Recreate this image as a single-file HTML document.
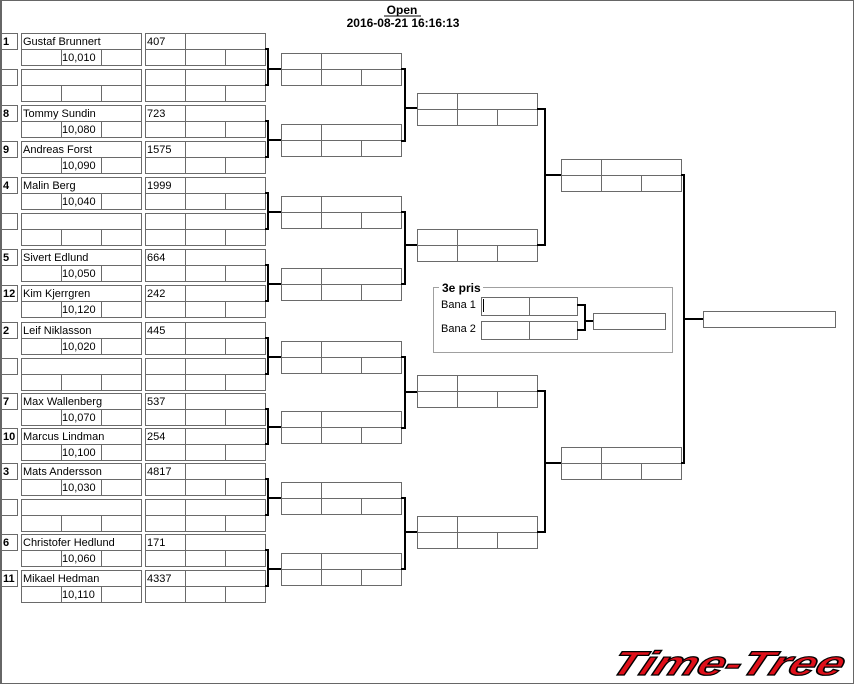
<!DOCTYPE html>
<html><head><meta charset="utf-8"><style>
html,body{margin:0;padding:0;background:#fff}
svg{display:block}
text{font-family:"Liberation Sans",sans-serif;font-size:11px;fill:#000}
.b{font-weight:bold}
</style></head><body>
<svg width="854" height="684" viewBox="0 0 854 684" xmlns="http://www.w3.org/2000/svg">
<defs>
<g id="slot" fill="none" stroke="#6a6a6a" stroke-width="1">
<rect x="1.5" y="0.5" width="16" height="16"/>
<rect x="21.5" y="0.5" width="120" height="16"/>
<rect x="21.5" y="16.5" width="40" height="16"/><rect x="61.5" y="16.5" width="40" height="16"/><rect x="101.5" y="16.5" width="40" height="16"/>
<rect x="145.5" y="0.5" width="40" height="16"/><rect x="185.5" y="0.5" width="80" height="16"/>
<rect x="145.5" y="16.5" width="40" height="16"/><rect x="185.5" y="16.5" width="40" height="16"/><rect x="225.5" y="16.5" width="40" height="16"/>
</g>
<g id="box" fill="none" stroke="#6a6a6a" stroke-width="1">
<rect x="0.5" y="0.5" width="40" height="16"/><rect x="40.5" y="0.5" width="80" height="16"/>
<rect x="0.5" y="16.5" width="40" height="16"/><rect x="40.5" y="16.5" width="40" height="16"/><rect x="80.5" y="16.5" width="40" height="16"/>
</g>
</defs>
<rect x="0.5" y="0.5" width="853" height="683" fill="none" stroke="#666" stroke-width="1"/>
<line x1="1" y1="0" x2="1" y2="684" stroke="#666" stroke-width="2"/>

<text x="402" y="14" text-anchor="middle" class="b" style="font-size:12px">Open</text>
<line x1="384" y1="16" x2="421" y2="16" stroke="#000" stroke-width="1"/>
<text x="403" y="27" text-anchor="middle" class="b" style="font-size:12px">2016-08-21 16:16:13</text>

<use href="#slot" x="0" y="33"/><use href="#slot" x="0" y="69"/>
<use href="#slot" x="0" y="105"/><use href="#slot" x="0" y="141"/>
<use href="#slot" x="0" y="177"/><use href="#slot" x="0" y="213"/>
<use href="#slot" x="0" y="249"/><use href="#slot" x="0" y="285"/>
<use href="#slot" x="0" y="322"/><use href="#slot" x="0" y="358"/>
<use href="#slot" x="0" y="393"/><use href="#slot" x="0" y="428"/>
<use href="#slot" x="0" y="463"/><use href="#slot" x="0" y="499"/>
<use href="#slot" x="0" y="534"/><use href="#slot" x="0" y="570"/>

<g>
<text x="3" y="45" class="b">1</text><text x="23" y="45">Gustaf Brunnert</text><text x="62" y="61">10,010</text><text x="147" y="45">407</text>
<text x="3" y="117" class="b">8</text><text x="23" y="117">Tommy Sundin</text><text x="62" y="133">10,080</text><text x="147" y="117">723</text>
<text x="3" y="153" class="b">9</text><text x="23" y="153">Andreas Forst</text><text x="62" y="169">10,090</text><text x="147" y="153">1575</text>
<text x="3" y="189" class="b">4</text><text x="23" y="189">Malin Berg</text><text x="62" y="205">10,040</text><text x="147" y="189">1999</text>
<text x="3" y="261" class="b">5</text><text x="23" y="261">Sivert Edlund</text><text x="62" y="277">10,050</text><text x="147" y="261">664</text>
<text x="3" y="297" class="b">12</text><text x="23" y="297">Kim Kjerrgren</text><text x="62" y="313">10,120</text><text x="147" y="297">242</text>
<text x="3" y="334" class="b">2</text><text x="23" y="334">Leif Niklasson</text><text x="62" y="350">10,020</text><text x="147" y="334">445</text>
<text x="3" y="405" class="b">7</text><text x="23" y="405">Max Wallenberg</text><text x="62" y="421">10,070</text><text x="147" y="405">537</text>
<text x="3" y="440" class="b">10</text><text x="23" y="440">Marcus Lindman</text><text x="62" y="456">10,100</text><text x="147" y="440">254</text>
<text x="3" y="475" class="b">3</text><text x="23" y="475">Mats Andersson</text><text x="62" y="491">10,030</text><text x="147" y="475">4817</text>
<text x="3" y="546" class="b">6</text><text x="23" y="546">Christofer Hedlund</text><text x="62" y="562">10,060</text><text x="147" y="546">171</text>
<text x="3" y="582" class="b">11</text><text x="23" y="582">Mikael Hedman</text><text x="62" y="598">10,110</text><text x="147" y="582">4337</text>
</g>

<use href="#box" x="281" y="53"/><use href="#box" x="281" y="124"/>
<use href="#box" x="281" y="196"/><use href="#box" x="281" y="268"/>
<use href="#box" x="281" y="341"/><use href="#box" x="281" y="411"/>
<use href="#box" x="281" y="482"/><use href="#box" x="281" y="553"/>
<use href="#box" x="417" y="93"/><use href="#box" x="417" y="229"/>
<use href="#box" x="417" y="375"/><use href="#box" x="417" y="516"/>
<use href="#box" x="561" y="159"/><use href="#box" x="561" y="447"/>
<rect x="703.5" y="311.5" width="132" height="16" fill="none" stroke="#6a6a6a"/>

<g fill="none" stroke="#000" stroke-width="2">
<path d="M265 49H268V85H265M268 69H281"/>
<path d="M265 121H268V157H265M268 140H281"/>
<path d="M265 193H268V229H265M268 212H281"/>
<path d="M265 265H268V301H265M268 284H281"/>
<path d="M265 338H268V374H265M268 357H281"/>
<path d="M265 409H268V444H265M268 427H281"/>
<path d="M265 479H268V515H265M268 498H281"/>
<path d="M265 550H268V586H265M268 569H281"/>
<path d="M401 69H405V141H401M405 108H417"/>
<path d="M401 212H405V284H401M405 245H417"/>
<path d="M401 357H405V428H401M405 392H417"/>
<path d="M401 498H405V569H401M405 532H417"/>
<path d="M537 109H545V245H537M545 175H561"/>
<path d="M537 391H545V532H537M545 463H561"/>
<path d="M681 175H684V463H681M684 319H703"/>
</g>

<rect x="433.5" y="287.5" width="239" height="65" fill="none" stroke="#a0a0a0"/>
<rect x="439" y="281" width="44" height="12" fill="#fff"/>
<text x="442" y="292" class="b" style="font-size:12px">3e pris</text>
<text x="441" y="308">Bana 1</text>
<text x="441" y="332">Bana 2</text>
<g fill="none" stroke="#6a6a6a">
<rect x="481.5" y="297.5" width="48" height="18"/><rect x="529.5" y="297.5" width="48" height="18"/>
<rect x="481.5" y="321.5" width="48" height="18"/><rect x="529.5" y="321.5" width="48" height="18"/>
<rect x="593.5" y="313.5" width="72" height="16"/>
</g>
<line x1="483.5" y1="299" x2="483.5" y2="312" stroke="#000"/>
<path d="M577 305H585V330H577M585 321H593" fill="none" stroke="#000" stroke-width="2"/>

<text x="608" y="675" textLength="232" lengthAdjust="spacingAndGlyphs" transform="skewX(-22) translate(273,0)" style="font-size:34px;font-weight:bold;font-style:italic;fill:#e0101a;stroke:#000;stroke-width:1.2;font-family:'Liberation Sans',sans-serif">Time-Tree</text>
</svg>
</body></html>
